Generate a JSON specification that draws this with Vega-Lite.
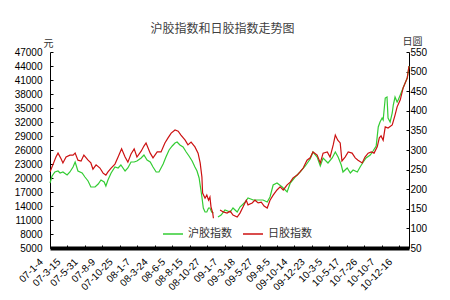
{
"$schema": "https://vega.github.io/schema/vega-lite/v6.json",
"width": 359, "height": 196,
"autosize": "none",
"padding": {"left": 50, "top": 52, "right": 41, "bottom": 52},
"background": "white",
"title": {"text": "沪胶指数和日胶指数走势图", "font": "Noto Sans CJK SC", "fontSize": 12, "fontWeight": "normal", "color": "#404040", "anchor": "middle", "frame": "group", "offset": 2, "dx": -7, "dy": 2},
"datasets": {
"hu": [
{"day":0,"value":18928,"seg":1},{"day":6,"value":20428,"seg":1},{"day":14,"value":21285,"seg":1},{"day":23,"value":21500,"seg":1},{"day":29,"value":21071,"seg":1},{"day":37,"value":21285,"seg":1},{"day":49,"value":20643,"seg":1},{"day":57,"value":21285,"seg":1},{"day":66,"value":22357,"seg":1},{"day":72,"value":23428,"seg":1},{"day":80,"value":21500,"seg":1},{"day":92,"value":21071,"seg":1},{"day":100,"value":20214,"seg":1},{"day":109,"value":19357,"seg":1},{"day":117,"value":18071,"seg":1},{"day":129,"value":18071,"seg":1},{"day":138,"value":18714,"seg":1},{"day":146,"value":19571,"seg":1},{"day":155,"value":19143,"seg":1},{"day":160,"value":18286,"seg":1},{"day":166,"value":19571,"seg":1},{"day":175,"value":21071,"seg":1},{"day":186,"value":22357,"seg":1},{"day":195,"value":22143,"seg":1},{"day":203,"value":22786,"seg":1},{"day":215,"value":21500,"seg":1},{"day":223,"value":22143,"seg":1},{"day":232,"value":23428,"seg":1},{"day":241,"value":23428,"seg":1},{"day":249,"value":23643,"seg":1},{"day":261,"value":24286,"seg":1},{"day":269,"value":24928,"seg":1},{"day":278,"value":23857,"seg":1},{"day":287,"value":23428,"seg":1},{"day":295,"value":22357,"seg":1},{"day":304,"value":21285,"seg":1},{"day":312,"value":21285,"seg":1},{"day":324,"value":23000,"seg":1},{"day":332,"value":24500,"seg":1},{"day":341,"value":26000,"seg":1},{"day":350,"value":26857,"seg":1},{"day":358,"value":27500,"seg":1},{"day":364,"value":27714,"seg":1},{"day":372,"value":27071,"seg":1},{"day":381,"value":26643,"seg":1},{"day":390,"value":25571,"seg":1},{"day":398,"value":24714,"seg":1},{"day":407,"value":23643,"seg":1},{"day":415,"value":22357,"seg":1},{"day":421,"value":21500,"seg":1},{"day":427,"value":20000,"seg":1},{"day":435,"value":15928,"seg":1},{"day":439,"value":13571,"seg":1},{"day":444,"value":12714,"seg":1},{"day":449,"value":12714,"seg":1},{"day":454,"value":13571,"seg":1},{"day":458,"value":13571,"seg":1},{"day":463,"value":12714,"seg":1},{"day":468,"value":12500,"seg":1},
{"day":481,"value":11643,"seg":2},{"day":490,"value":12071,"seg":2},{"day":501,"value":13143,"seg":2},{"day":516,"value":12714,"seg":2},{"day":524,"value":13571,"seg":2},{"day":536,"value":12714,"seg":2},{"day":544,"value":13786,"seg":2},{"day":559,"value":14857,"seg":2},{"day":567,"value":15714,"seg":2},{"day":582,"value":15285,"seg":2},{"day":596,"value":15285,"seg":2},{"day":610,"value":15285,"seg":2},{"day":622,"value":14857,"seg":2},{"day":630,"value":15928,"seg":2},{"day":639,"value":18500,"seg":2},{"day":650,"value":18928,"seg":2},{"day":665,"value":18071,"seg":2},{"day":679,"value":17000,"seg":2},{"day":688,"value":18928,"seg":2},{"day":702,"value":20214,"seg":2},{"day":716,"value":21285,"seg":2},{"day":731,"value":22571,"seg":2},{"day":745,"value":24071,"seg":2},{"day":753,"value":25571,"seg":2},{"day":765,"value":24500,"seg":2},{"day":774,"value":22571,"seg":2},{"day":782,"value":24286,"seg":2},{"day":796,"value":23214,"seg":2},{"day":808,"value":24286,"seg":2},{"day":817,"value":25571,"seg":2},{"day":825,"value":24500,"seg":2},{"day":834,"value":22786,"seg":2},{"day":839,"value":21285,"seg":2},{"day":851,"value":22143,"seg":2},{"day":860,"value":21071,"seg":2},{"day":868,"value":21714,"seg":2},{"day":880,"value":21285,"seg":2},{"day":888,"value":22357,"seg":2},{"day":897,"value":23428,"seg":2},{"day":905,"value":24286,"seg":2},{"day":917,"value":24928,"seg":2},{"day":925,"value":25786,"seg":2},{"day":934,"value":26857,"seg":2},{"day":940,"value":30928,"seg":2},{"day":945,"value":32000,"seg":2},{"day":951,"value":32857,"seg":2},{"day":954,"value":32428,"seg":2},{"day":960,"value":37143,"seg":2},{"day":965,"value":37357,"seg":2},{"day":968,"value":32857,"seg":2},{"day":974,"value":32000,"seg":2},{"day":980,"value":33928,"seg":2},{"day":983,"value":35643,"seg":2},{"day":988,"value":37357,"seg":2},{"day":994,"value":36286,"seg":2},{"day":997,"value":36714,"seg":2},{"day":1003,"value":37786,"seg":2},{"day":1011,"value":39286,"seg":2},{"day":1023,"value":41428,"seg":2},{"day":1028,"value":44000,"seg":2}
],
"ri": [
{"day":0,"value":244,"seg":1},{"day":9,"value":264,"seg":1},{"day":17,"value":282,"seg":1},{"day":23,"value":292,"seg":1},{"day":32,"value":277,"seg":1},{"day":37,"value":267,"seg":1},{"day":46,"value":282,"seg":1},{"day":57,"value":287,"seg":1},{"day":66,"value":287,"seg":1},{"day":72,"value":292,"seg":1},{"day":80,"value":274,"seg":1},{"day":89,"value":272,"seg":1},{"day":97,"value":287,"seg":1},{"day":109,"value":274,"seg":1},{"day":117,"value":267,"seg":1},{"day":123,"value":251,"seg":1},{"day":132,"value":262,"seg":1},{"day":143,"value":254,"seg":1},{"day":152,"value":241,"seg":1},{"day":160,"value":236,"seg":1},{"day":166,"value":244,"seg":1},{"day":175,"value":254,"seg":1},{"day":186,"value":264,"seg":1},{"day":195,"value":282,"seg":1},{"day":205,"value":303,"seg":1},{"day":215,"value":282,"seg":1},{"day":223,"value":269,"seg":1},{"day":232,"value":290,"seg":1},{"day":241,"value":303,"seg":1},{"day":249,"value":282,"seg":1},{"day":261,"value":297,"seg":1},{"day":269,"value":310,"seg":1},{"day":275,"value":318,"seg":1},{"day":287,"value":292,"seg":1},{"day":295,"value":280,"seg":1},{"day":307,"value":295,"seg":1},{"day":318,"value":295,"seg":1},{"day":329,"value":318,"seg":1},{"day":338,"value":331,"seg":1},{"day":347,"value":343,"seg":1},{"day":358,"value":351,"seg":1},{"day":367,"value":348,"seg":1},{"day":375,"value":338,"seg":1},{"day":387,"value":325,"seg":1},{"day":395,"value":313,"seg":1},{"day":404,"value":320,"seg":1},{"day":415,"value":308,"seg":1},{"day":424,"value":292,"seg":1},{"day":430,"value":267,"seg":1},{"day":435,"value":231,"seg":1},{"day":437,"value":190,"seg":1},{"day":444,"value":177,"seg":1},{"day":449,"value":185,"seg":1},{"day":454,"value":172,"seg":1},{"day":458,"value":180,"seg":1},{"day":461,"value":155,"seg":1},{"day":466,"value":139,"seg":1},{"day":468,"value":126,"seg":1},
{"day":487,"value":147,"seg":2},{"day":496,"value":142,"seg":2},{"day":507,"value":139,"seg":2},{"day":516,"value":144,"seg":2},{"day":524,"value":134,"seg":2},{"day":536,"value":129,"seg":2},{"day":544,"value":139,"seg":2},{"day":553,"value":155,"seg":2},{"day":562,"value":172,"seg":2},{"day":567,"value":160,"seg":2},{"day":579,"value":165,"seg":2},{"day":587,"value":172,"seg":2},{"day":596,"value":165,"seg":2},{"day":605,"value":167,"seg":2},{"day":613,"value":157,"seg":2},{"day":622,"value":152,"seg":2},{"day":630,"value":172,"seg":2},{"day":639,"value":185,"seg":2},{"day":650,"value":198,"seg":2},{"day":659,"value":206,"seg":2},{"day":668,"value":198,"seg":2},{"day":679,"value":211,"seg":2},{"day":688,"value":218,"seg":2},{"day":696,"value":229,"seg":2},{"day":708,"value":236,"seg":2},{"day":716,"value":244,"seg":2},{"day":725,"value":254,"seg":2},{"day":736,"value":274,"seg":2},{"day":745,"value":280,"seg":2},{"day":753,"value":295,"seg":2},{"day":765,"value":287,"seg":2},{"day":774,"value":267,"seg":2},{"day":782,"value":292,"seg":2},{"day":794,"value":295,"seg":2},{"day":802,"value":282,"seg":2},{"day":811,"value":313,"seg":2},{"day":817,"value":338,"seg":2},{"day":824,"value":325,"seg":2},{"day":831,"value":318,"seg":2},{"day":836,"value":272,"seg":2},{"day":845,"value":282,"seg":2},{"day":854,"value":295,"seg":2},{"day":865,"value":292,"seg":2},{"day":874,"value":280,"seg":2},{"day":882,"value":274,"seg":2},{"day":894,"value":267,"seg":2},{"day":902,"value":282,"seg":2},{"day":911,"value":292,"seg":2},{"day":920,"value":295,"seg":2},{"day":928,"value":292,"seg":2},{"day":937,"value":308,"seg":2},{"day":943,"value":331,"seg":2},{"day":948,"value":336,"seg":2},{"day":954,"value":325,"seg":2},{"day":960,"value":359,"seg":2},{"day":968,"value":356,"seg":2},{"day":980,"value":364,"seg":2},{"day":988,"value":389,"seg":2},{"day":994,"value":410,"seg":2},{"day":1003,"value":428,"seg":2},{"day":1011,"value":458,"seg":2},{"day":1023,"value":484,"seg":2},{"day":1028,"value":514,"seg":2}
]
},
"encoding": {
"x": {"field": "day", "type": "quantitative", "scale": {"domain": [0, 1028], "nice": false, "zero": false},
"axis": {"title": null, "values": [0,50,100,150,200,250,300,350,400,450,500,550,600,650,700,750,800,850,900,950,1000],
"labelExpr": "['07-1-4','07-3-15','07-5-31','07-8-9','07-10-25','08-1-7','08-3-24','08-6-5','08-8-15','08-10-27','09-1-7','09-3-18','09-5-27','09-8-5','09-10-14','09-12-23','10-3-5','10-5-17','10-7-26','10-10-7','10-12-16'][round(datum.value/50)]",
"labelAngle": -45, "labelAlign": "right", "labelBaseline": "middle", "labelFont": "Liberation Sans", "labelFontSize": 10, "labelColor": "#000", "labelPadding": 15, "labelOffset": -9,
"domainColor": "#000", "domainWidth": 4, "tickColor": "#000", "tickSize": -3, "grid": false, "labelOverlap": false, "labelFlush": false, "labelBound": false}}
},
"layer": [
{
"data": {"name": "hu"},
"mark": {"type": "line", "strokeWidth": 1.2},
"encoding": {
"y": {"field": "value", "type": "quantitative", "scale": {"domain": [5000, 47000], "nice": false, "zero": false},
"axis": {"title": "元", "titleAngle": 0, "titleX": -2, "titleY": -9, "titleAlign": "center", "titleBaseline": "middle", "titleFont": "Noto Sans CJK SC", "titleFontSize": 10, "titleFontWeight": "normal", "titleColor": "#333",
"values": [5000,8000,11000,14000,17000,20000,23000,26000,29000,32000,35000,38000,41000,44000,47000], "format": "d",
"labelFont": "Liberation Sans", "labelFontSize": 10, "labelColor": "#000", "labelPadding": 11, "tickSize": -3, "tickColor": "#000", "domainColor": "#000", "grid": false}},
"color": {"datum": "沪胶指数", "type": "nominal", "scale": {"domain": ["沪胶指数", "日胶指数"], "range": ["#33cc33", "#cc1111"]},
"legend": {"title": null, "orient": "none", "legendX": 112, "legendY": 171, "direction": "horizontal", "symbolType": "stroke", "symbolSize": 400, "symbolStrokeWidth": 1.5, "labelFont": "Noto Sans CJK SC", "labelFontSize": 11, "labelColor": "#333", "columnPadding": 8, "labelOffset": 4}},
"detail": {"field": "seg", "type": "nominal"}
}
},
{
"data": {"name": "ri"},
"mark": {"type": "line", "strokeWidth": 1.2},
"encoding": {
"y": {"field": "value", "type": "quantitative", "scale": {"domain": [50, 550], "nice": false, "zero": false},
"axis": {"orient": "right", "title": "日圆", "titleAngle": 0, "titleX": 3, "titleY": -11, "titleAlign": "center", "titleBaseline": "middle", "titleFont": "Noto Sans CJK SC", "titleFontSize": 10, "titleFontWeight": "normal", "titleColor": "#333",
"values": [50,100,150,200,250,300,350,400,450,500,550],
"labelFont": "Liberation Sans", "labelFontSize": 10, "labelColor": "#000", "labelPadding": 4, "tickSize": -3, "tickColor": "#000", "domainColor": "#000", "grid": false}},
"color": {"datum": "日胶指数", "type": "nominal"},
"detail": {"field": "seg", "type": "nominal"}
}
}
],
"resolve": {"scale": {"y": "independent"}, "axis": {"y": "independent"}},
"config": {"view": {"stroke": null}}
}
